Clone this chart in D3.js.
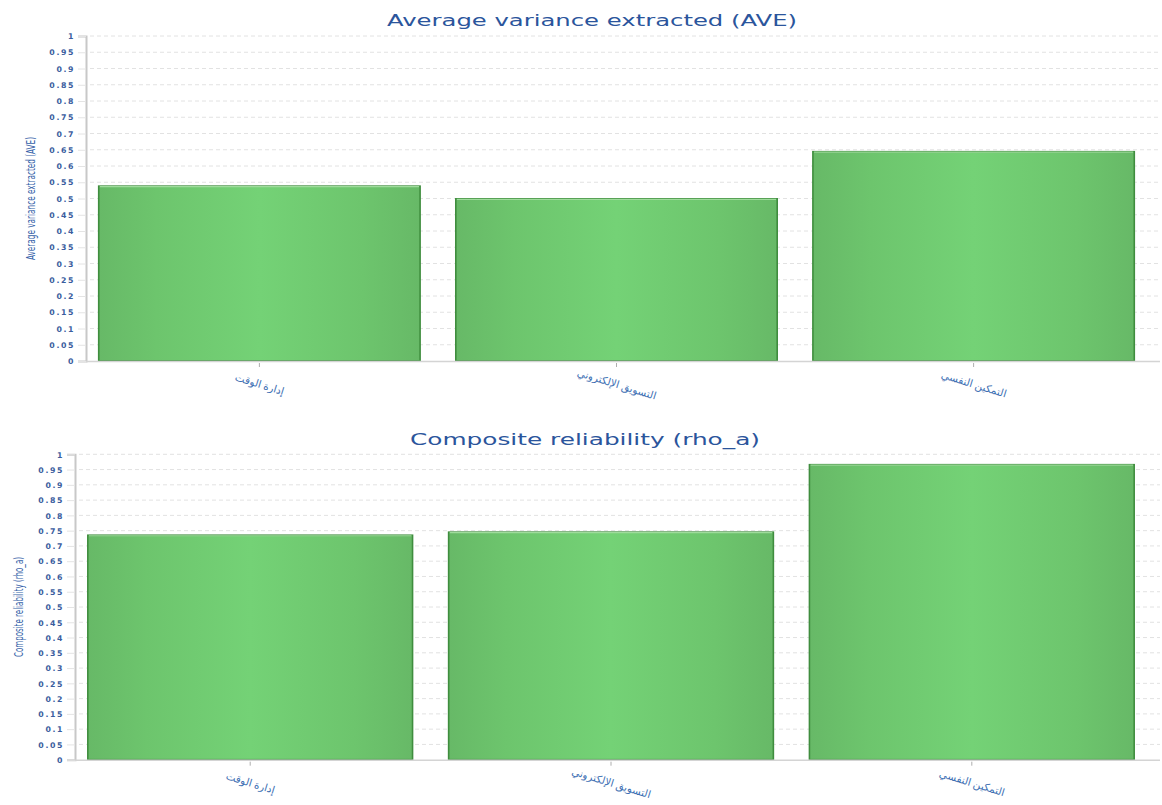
<!DOCTYPE html>
<html>
<head>
<meta charset="utf-8">
<script src="https://cdn.jsdelivr.net/npm/d3@7"></script>
<style>
  body { margin:0; background:#fff; }
  svg { display:block; }
</style>
</head>
<body>
<svg id="chart" width="1162" height="805"></svg>
<script>
// ---- data ----
const categories = ["إدارة الوقت", "التسويق الإلكتروني", "التمكين النفسي"];
const aveValues = [0.538, 0.499, 0.644];
const rhoValues = [0.735, 0.745, 0.966];
const yTicks = [0,0.05,0.1,0.15,0.2,0.25,0.3,0.35,0.4,0.45,0.5,0.55,0.6,0.65,0.7,0.75,0.8,0.85,0.9,0.95,1];
const tickLabels = yTicks.map(v => String(+v.toFixed(2)));

const panels = [
  { title: "Average variance extracted (AVE)", yLabel: "Average variance extracted (AVE)", values: aveValues,
    left: 88, right: 1145, axisEnd: 1160, top: 36, bottom: 361,
    titleX: 592, titleY: 26, titleLen: 410, yLabX: 35, yLabY: 198.5, yLabLen: 123 },
  { title: "Composite reliability (rho_a)", yLabel: "Composite reliability (rho_a)", values: rhoValues,
    left: 77, right: 1145, axisEnd: 1160, top: 454.3, bottom: 759.7,
    titleX: 585, titleY: 445, titleLen: 350, yLabX: 23, yLabY: 607, yLabLen: 100 }
];

const svg = d3.select("#chart");
const defs = svg.append("defs");
const grad = defs.append("linearGradient").attr("id","barGrad").attr("x1","0%").attr("x2","100%").attr("y1","0%").attr("y2","0%");
[[0,"#67b967"],[0.18,"#6dc56d"],[0.5,"#74d276"],[0.82,"#6dc56d"],[1,"#67b967"]].forEach(([o,c]) =>
  grad.append("stop").attr("offset", o).attr("stop-color", c));

const blue = "#2b559c";
const tickBlue = "#3a5d9e";

panels.forEach(p => {
  const g = svg.append("g");
  const x = d3.scaleBand().domain(categories).range([p.left, p.right]).paddingInner(0.1).paddingOuter(0.03);
  const y = d3.scaleLinear().domain([0,1]).range([p.bottom, p.top]);

  // grid
  g.append("g").selectAll("line").data(yTicks.filter(v => v > 0)).join("line")
    .attr("x1", p.left + 2).attr("x2", p.axisEnd)
    .attr("y1", d => y(d)).attr("y2", d => y(d))
    .attr("stroke", "#e2e2e2").attr("stroke-width", 1).attr("stroke-dasharray", "4,3");

  // bars
  const bars = g.append("g").selectAll("g").data(p.values).join("g");
  bars.append("rect")
    .attr("x", (d,i) => x(categories[i]))
    .attr("y", d => y(d))
    .attr("width", x.bandwidth())
    .attr("height", d => y(0) - y(d))
    .attr("fill", "url(#barGrad)")
    .attr("stroke", "#3f8d3e").attr("stroke-width", 1.6);
  bars.append("line")
    .attr("x1", (d,i) => x(categories[i]) + 1).attr("x2", (d,i) => x(categories[i]) + x.bandwidth() - 1)
    .attr("y1", d => y(d) + 0.5).attr("y2", d => y(d) + 0.5)
    .attr("stroke", "#9fdc9c").attr("stroke-width", 1.2);

  // y axis
  const yAxis = d3.axisLeft(y).tickValues(yTicks).tickFormat((d,i) => tickLabels[i]).tickSize(8).tickPadding(3);
  const ya = g.append("g").attr("transform", `translate(${p.left - 2},0)`).call(yAxis);
  ya.select(".domain").attr("stroke", "#c8c8c8").attr("stroke-width", 2);
  ya.selectAll(".tick line").attr("stroke", "#e4e4e4");
  ya.selectAll(".tick text").attr("fill", tickBlue).attr("font-family", "DejaVu Sans, sans-serif")
    .attr("font-size", 7.8).attr("letter-spacing", "1.6px").attr("font-weight", "bold").attr("dy", "0.35em");

  // x axis
  const xAxis = d3.axisBottom(x).tickSize(4).tickFormat("");
  const xa = g.append("g").attr("transform", `translate(0,${p.bottom})`).call(xAxis);
  xa.select(".domain").attr("d", `M${p.left - 2},0.5H${p.axisEnd}`).attr("stroke", "#d4d4d4").attr("stroke-width", 1.5);
  xa.selectAll(".tick line").attr("stroke", "#999").attr("stroke-width", 0.8).attr("y1", 2).attr("y2", 6);

  // category labels
  g.append("g").selectAll("text").data(categories).join("text")
    .attr("transform", d => `translate(${x(d) + x.bandwidth()/2},${p.bottom + 24}) rotate(17)`)
    .attr("text-anchor", "middle").attr("dominant-baseline", "middle")
    .attr("fill", "#3d6fb3").attr("font-family", "Noto Sans, DejaVu Sans, sans-serif").attr("font-size", 10.5)
    .attr("direction", "rtl")
    .text(d => d);

  // title
  g.append("text").attr("x", p.titleX).attr("y", p.titleY).attr("text-anchor", "middle")
    .attr("fill", blue).attr("font-family", "DejaVu Sans, sans-serif").attr("font-size", 15)
    .attr("textLength", p.titleLen).attr("lengthAdjust", "spacingAndGlyphs")
    .text(p.title);

  // y label
  g.append("text").attr("transform", `translate(${p.yLabX},${p.yLabY}) rotate(-90)`).attr("text-anchor", "middle")
    .attr("fill", "#3461a8").attr("font-family", "Liberation Sans Narrow, DejaVu Sans Condensed, sans-serif").attr("font-size", 11.5)
    .attr("textLength", p.yLabLen).attr("lengthAdjust", "spacingAndGlyphs")
    .text(p.yLabel);
});
</script>
</body>
</html>
